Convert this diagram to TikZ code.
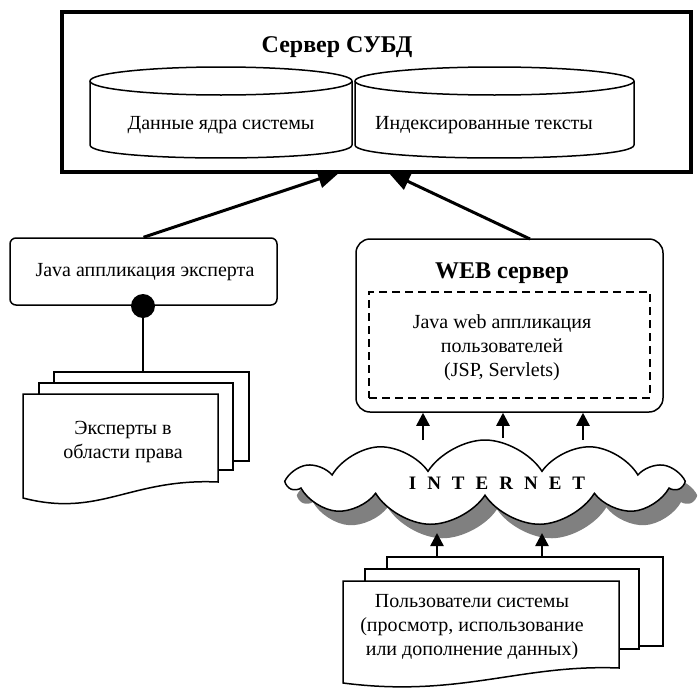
\documentclass[tikz,border=0pt]{standalone}
\usepackage{fontspec}
\setmainfont{Liberation Serif}
\usetikzlibrary{arrows.meta,shapes.symbols,shadows}
\begin{document}
\begin{tikzpicture}[x=1pt,y=-1pt,
  txt/.style={font=\fontsize{20}{24}\selectfont, align=center, inner sep=0pt},
  headtxt/.style={font=\fontsize{24}{28}\selectfont\bfseries, inner sep=0pt},
  sheet/.style={draw, line width=1.5pt, fill=white},
  boxrect/.style={draw, line width=1.5pt, fill=white, inner sep=0pt},
  bigarrow/.style={line width=3pt, -{Triangle[length=22pt,width=18pt]}},
  smallarrow/.style={line width=2.5pt, -{Triangle[length=13pt,width=13pt]}},
]
\useasboundingbox (0,0) rectangle (699,688);

% DBMS server
\node[draw, line width=3.5pt, minimum width=629pt, minimum height=160pt, inner sep=0pt] (dbms) at (376.5,92) {};
\node[headtxt] (dbmstitle) at (337,47) {Сервер СУБД};

% cylinders
\draw[sheet] (90,81) -- (90,145) .. controls (90,162.3) and (352,162.3) .. (352,145) -- (352,81);
\draw[sheet] (221,81) ellipse (131 and 14);
\draw[sheet] (355,81) -- (355,145) .. controls (355,162.3) and (634,162.3) .. (634,145) -- (634,81);
\draw[sheet] (494.5,81) ellipse (139.5 and 14);
\node[txt] (core) at (221,125) {Данные ядра системы};
\node[txt] (idx) at (484,125) {Индексированные тексты};

% Java expert app
\node[boxrect, rounded corners=6pt, minimum width=267pt, minimum height=67pt] (japp) at (143.5,271.5) {};
\node[txt] (japptext) at (145,272) {Java аппликация эксперта};

% WEB server
\node[boxrect, rounded corners=14pt, minimum width=307pt, minimum height=173pt] (web) at (509.5,325.5) {};
\node[headtxt] (webtitle) at (502,273) {WEB сервер};
\node[draw, line width=2.5pt, dash pattern=on 8pt off 5pt, minimum width=281pt, minimum height=106pt, inner sep=0pt] (app) at (509.5,345) {};
\node[txt] (apptext) at (502,348) {Java web аппликация\\пользователей\\(JSP, Servlets)};

% arrows into DBMS
\coordinate (tipL) at (340,172);
\coordinate (tipR) at (388,172);
\coordinate (webtop) at (530,239);
\draw[bigarrow] (japp.north) -- (tipL);
\draw[bigarrow] (webtop) -- (tipR);

% experts stack
\node[sheet, minimum width=195pt, minimum height=89pt, inner sep=0pt] (eback) at (151.5,416.5) {};
\node[sheet, minimum width=194pt, minimum height=87pt, inner sep=0pt] (emid) at (136,426.5) {};
\draw[sheet] (23,394) -- (218,394) -- (218,482) .. controls (130,478) and (100,518) .. (23,498) -- cycle;
\node[txt] (etext) at (123,442) {Эксперты в\\области права};

% ball connector
\coordinate (balltop) at (143,306);
\draw[line width=2pt] (balltop) -- (balltop |- eback.north);
\node[circle, fill=black, minimum size=24pt, inner sep=0pt] (ball) at (balltop) {};

% cloud
\node[cloud, draw, line width=1.5pt, fill=white, cloud puffs=11, cloud puff arc=115, cloud ignores aspect,
  minimum width=392pt, minimum height=86pt, inner sep=0pt,
  drop shadow={shadow xshift=12pt, shadow yshift=-14pt, fill=gray, opacity=1}] (inet) at (485,483) {};
\node[font=\fontsize{19}{22}\selectfont\bfseries, inner sep=0pt] (inettext) at (497,483)
  {I\hspace{11pt}N\hspace{11pt}T\hspace{11pt}E\hspace{11pt}R\hspace{11pt}N\hspace{11pt}E\hspace{11pt}T};

% arrows cloud -> web
\coordinate (c1) at (423,440);
\coordinate (c2) at (503,438);
\coordinate (c3) at (583,440);
\draw[smallarrow] (c1) -- (c1 |- web.south);
\draw[smallarrow] (c2) -- (c2 |- web.south);
\draw[smallarrow] (c3) -- (c3 |- web.south);

% users stack
\node[sheet, minimum width=276pt, minimum height=89pt, inner sep=0pt] (uback) at (525,601.5) {};
\node[sheet, minimum width=274pt, minimum height=80pt, inner sep=0pt] (umid) at (502,609) {};
\draw[sheet] (343,581) -- (619,581) -- (619,668) .. controls (520,664) and (460,698) .. (343,683) -- cycle;
\node[txt] (utext) at (472,627) {Пользователи системы\\(просмотр, использование\\или дополнение данных)};

% arrows users -> cloud
\coordinate (u1) at (437,533);
\coordinate (u2) at (542,533);
\draw[smallarrow] (u1 |- uback.north) -- (u1);
\draw[smallarrow] (u2 |- uback.north) -- (u2);
\end{tikzpicture}
\end{document}
